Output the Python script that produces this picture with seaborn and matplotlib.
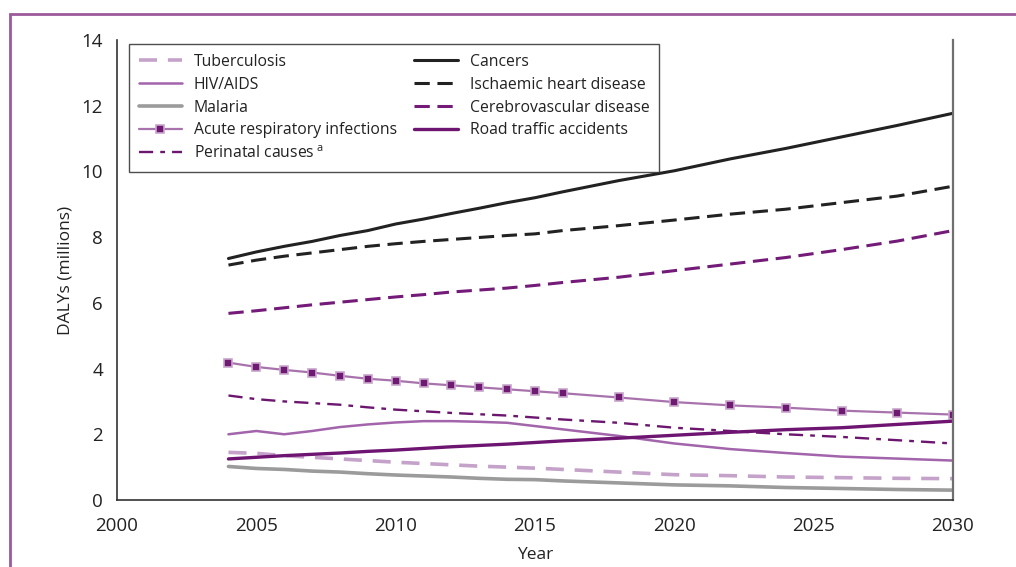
import matplotlib
matplotlib.use('Agg')
import matplotlib.pyplot as plt
import matplotlib.patches as mpatches
import seaborn as sns

years = [2004, 2005, 2006, 2007, 2008, 2009, 2010, 2011, 2012, 2013, 2014, 2015, 2016,
         2018, 2020, 2022, 2024, 2026, 2028, 2030]

tuberculosis = [1.45, 1.42, 1.35, 1.30, 1.25, 1.20, 1.15, 1.11, 1.07, 1.03, 1.00, 0.97, 0.93,
                0.85, 0.77, 0.74, 0.70, 0.68, 0.66, 0.65]
hiv_aids = [2.00, 2.10, 2.00, 2.10, 2.22, 2.30, 2.36, 2.40, 2.40, 2.38, 2.35, 2.25, 2.15,
            1.95, 1.72, 1.55, 1.43, 1.32, 1.26, 1.20]
malaria = [1.02, 0.96, 0.93, 0.88, 0.85, 0.80, 0.76, 0.73, 0.70, 0.66, 0.63, 0.62, 0.58,
           0.52, 0.46, 0.43, 0.38, 0.35, 0.32, 0.30]
acute_resp = [4.18, 4.05, 3.96, 3.88, 3.78, 3.69, 3.63, 3.55, 3.49, 3.43, 3.37, 3.31, 3.25,
              3.12, 2.98, 2.88, 2.81, 2.72, 2.66, 2.60]
perinatal = [3.18, 3.07, 3.00, 2.95, 2.90, 2.82, 2.75, 2.70, 2.65, 2.61, 2.57, 2.51, 2.45,
             2.35, 2.20, 2.10, 2.00, 1.92, 1.82, 1.72]
cancers = [7.35, 7.55, 7.72, 7.87, 8.05, 8.20, 8.40, 8.55, 8.72, 8.88, 9.05, 9.20, 9.38,
           9.72, 10.02, 10.38, 10.70, 11.05, 11.40, 11.77]
ischaemic = [7.15, 7.30, 7.42, 7.52, 7.62, 7.72, 7.80, 7.87, 7.93, 7.99, 8.05, 8.10, 8.20,
             8.35, 8.52, 8.70, 8.85, 9.05, 9.25, 9.55]
cerebrovascular = [5.68, 5.76, 5.85, 5.94, 6.02, 6.10, 6.18, 6.25, 6.33, 6.39, 6.45, 6.53, 6.62,
                   6.78, 6.98, 7.18, 7.38, 7.62, 7.88, 8.20]
road_traffic = [1.25, 1.30, 1.35, 1.39, 1.43, 1.48, 1.52, 1.57, 1.62, 1.66, 1.70, 1.75, 1.80,
                1.88, 1.97, 2.06, 2.14, 2.20, 2.30, 2.40]

x_ticks = [2000, 2005, 2010, 2015, 2020, 2025, 2030]
y_ticks = [0, 2, 4, 6, 8, 10, 12, 14]

sns.set_theme(style='white')
plt.rcParams['font.family'] = ['Open Sans', 'DejaVu Sans']
plt.rcParams['mathtext.fontset'] = 'custom'
plt.rcParams['mathtext.rm'] = 'Open Sans'

fig = plt.figure(figsize=(10.16, 5.67), dpi=100)
ax = fig.add_axes([117 / 1016, 1 - 500 / 567, (953 - 117) / 1016, 460 / 567])

# series: values, label, colour, linestyle, width
series = [
    (tuberculosis, 'Tuberculosis', '#c5a2c9', (0, (5, 3)), 2.6),
    (hiv_aids, 'HIV/AIDS', '#a264aa', '-', 1.8),
    (malaria, 'Malaria', '#9b9b9b', '-', 2.6),
    (acute_resp, 'Acute respiratory infections', '#a873ad', '-', 1.6),
    (perinatal, 'Perinatal causes$\\,^{\\mathrm{a}}$', '#6c1670', (0, (6, 3, 2, 3)), 1.7),
    (cancers, 'Cancers', '#222222', '-', 2.2),
    (ischaemic, 'Ischaemic heart disease', '#222222', (0, (5, 2.5)), 2.2),
    (cerebrovascular, 'Cerebrovascular disease', '#741a78', (0, (5, 2.5)), 2.2),
    (road_traffic, 'Road traffic accidents', '#6e1572', '-', 2.4),
]

for vals, label, color, ls, lw in series:
    if label.startswith('Acute'):
        sns.lineplot(x=years, y=vals, ax=ax, color=color, linestyle=ls, linewidth=lw,
                     marker='s', markersize=6, markerfacecolor='#6e1a72',
                     markeredgecolor='#c9a6cc', markeredgewidth=1.2, label=label)
    else:
        sns.lineplot(x=years, y=vals, ax=ax, color=color, linestyle=ls, linewidth=lw,
                     label=label)

ax.set_xlim(2000, 2030)
ax.set_ylim(0, 14)
ax.set_xticks(x_ticks)
ax.set_yticks(y_ticks)
ax.tick_params(axis='both', direction='out', length=6, width=1, colors='#333333',
               labelsize=13.5, labelcolor='#222222')
ax.tick_params(axis='y', pad=4)
ax.tick_params(axis='x', pad=6)
for s in ['left', 'bottom']:
    ax.spines[s].set_color('#333333')
    ax.spines[s].set_linewidth(1.2)
ax.spines['right'].set_color('#707070')
ax.spines['right'].set_linewidth(1.6)
ax.spines['top'].set_visible(False)

ax.set_ylabel('DALYs (millions)', fontsize=12.5, color='#222222', labelpad=6)
ax.set_xlabel('Year', fontsize=12.5, color='#222222', labelpad=9)

leg = ax.legend(ncol=2, loc='upper left', bbox_to_anchor=(12 / 836, 456 / 460),
                borderaxespad=0, fontsize=11.3, frameon=True, fancybox=False,
                edgecolor='#222222', handlelength=2.75, labelspacing=0.44,
                columnspacing=1.1, borderpad=0.62, handletextpad=0.77)
leg.get_frame().set_linewidth(1.0)
for t in leg.get_texts():
    t.set_color('#222222')

# purple frame around the figure
fig.patches.append(mpatches.Rectangle((10 / 1016, -0.5), 2, 0.5 + (1 - 14 / 567),
                                      transform=fig.transFigure, fill=False,
                                      edgecolor='#9c5a9c', linewidth=2, clip_on=False))

plt.savefig('out.png', dpi=100)
plt.close()
